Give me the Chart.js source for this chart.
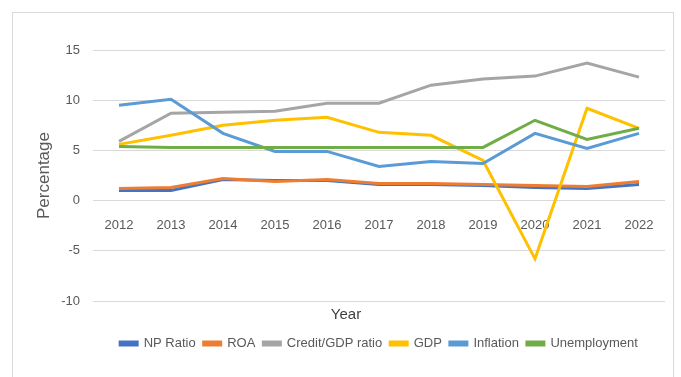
<!DOCTYPE html>
<html>
<head>
<meta charset="utf-8">
<script src="https://cdn.jsdelivr.net/npm/chart.js@4/dist/chart.umd.min.js"></script>
<style>
  body { margin: 0; background: #fff; }
  #wrap { position: relative; width: 681px; height: 377px; }
  #frame { position: absolute; left: 12px; top: 12px; width: 660px; height: 370px;
           border: 1px solid #d9d9d9; pointer-events: none; }
</style>
</head>
<body>
<div id="wrap">
  <canvas id="chart" width="681" height="377"></canvas>
  <div id="frame"></div>
</div>
<script>
const years = ['2012', '2013', '2014', '2015', '2016', '2017', '2018', '2019', '2020', '2021', '2022'];
const npRatio      = [1.0, 1.0, 2.1, 2.0, 2.0, 1.6, 1.6, 1.5, 1.3, 1.2, 1.6];
const roa          = [1.2, 1.3, 2.2, 1.9, 2.1, 1.7, 1.7, 1.6, 1.5, 1.4, 1.9];
const creditGdp    = [5.9, 8.7, 8.8, 8.9, 9.7, 9.7, 11.5, 12.1, 12.4, 13.7, 12.3];
const gdp          = [5.6, 6.5, 7.5, 8.0, 8.3, 6.8, 6.5, 4.0, -5.8, 9.2, 7.2];
const inflation    = [9.5, 10.1, 6.7, 4.9, 4.9, 3.4, 3.9, 3.7, 6.7, 5.2, 6.7];
const unemployment = [5.4, 5.3, 5.3, 5.3, 5.3, 5.3, 5.3, 5.3, 8.0, 6.1, 7.2];
const yTicks = [-10, -5, 0, 5, 10, 15];

const textColor = '#595959';
const font = "'Liberation Sans', Arial, sans-serif";

function series(label, data, color, i) {
    return {
        label: label,
        data: data,
        borderColor: color,
        backgroundColor: color,
        borderWidth: 3,
        pointRadius: 0,
        tension: 0,
        order: -i
    };
}

// the "Year" title sits left of the plot centre in the original
const yearTitleShift = {
    id: 'yearTitleShift',
    afterLayout(chart) {
        chart.scales.x2.right -= 66;
    }
};

new Chart(document.getElementById('chart').getContext('2d'), {
    type: 'line',
    data: {
        labels: years,
        datasets: [
            series('NP Ratio', npRatio, '#4472C4', 0),
            series('ROA', roa, '#ED7D31', 1),
            series('Credit/GDP ratio', creditGdp, '#A5A5A5', 2),
            series('GDP', gdp, '#FFC000', 3),
            series('Inflation', inflation, '#5B9BD5', 4),
            series('Unemployment', unemployment, '#70AD47', 5)
        ]
    },
    plugins: [yearTitleShift],
    options: {
        responsive: false,
        animation: false,
        layout: { padding: { top: 50, right: 16, left: 30, bottom: 17 } },
        plugins: {
            legend: {
                position: 'bottom',
                fullSize: false,
                labels: {
                    color: textColor,
                    font: { family: font, size: 13 },
                    boxWidth: 17,
                    boxHeight: 3,
                    padding: 8,
                    sort: (a, b) => a.datasetIndex - b.datasetIndex
                }
            },
            tooltip: { enabled: false }
        },
        scales: {
            x: {
                type: 'category',
                position: { y: 0 },
                offset: true,
                grid: { display: false, drawTicks: false },
                border: { display: false },
                ticks: { color: textColor, font: { family: font, size: 13 }, padding: 17, maxRotation: 0 }
            },
            x2: {
                type: 'category',
                position: 'bottom',
                offset: true,
                grid: { display: false, drawTicks: false },
                border: { display: false },
                ticks: { display: false },
                title: { display: true, text: 'Year', color: '#404040', font: { family: font, size: 15 }, padding: { top: 5, bottom: 5 } }
            },
            y: {
                min: -10,
                max: 15,
                afterBuildTicks: s => { s.ticks = yTicks.map(v => ({ value: v })); },
                afterFit: s => { s.width = 63; },
                grid: { color: '#d9d9d9', drawTicks: false },
                border: { display: false },
                ticks: { color: textColor, font: { family: font, size: 13 }, padding: 13 },
                title: { display: true, text: 'Percentage', color: '#595959', font: { family: font, size: 17 } }
            }
        }
    }
});
</script>
</body>
</html>
